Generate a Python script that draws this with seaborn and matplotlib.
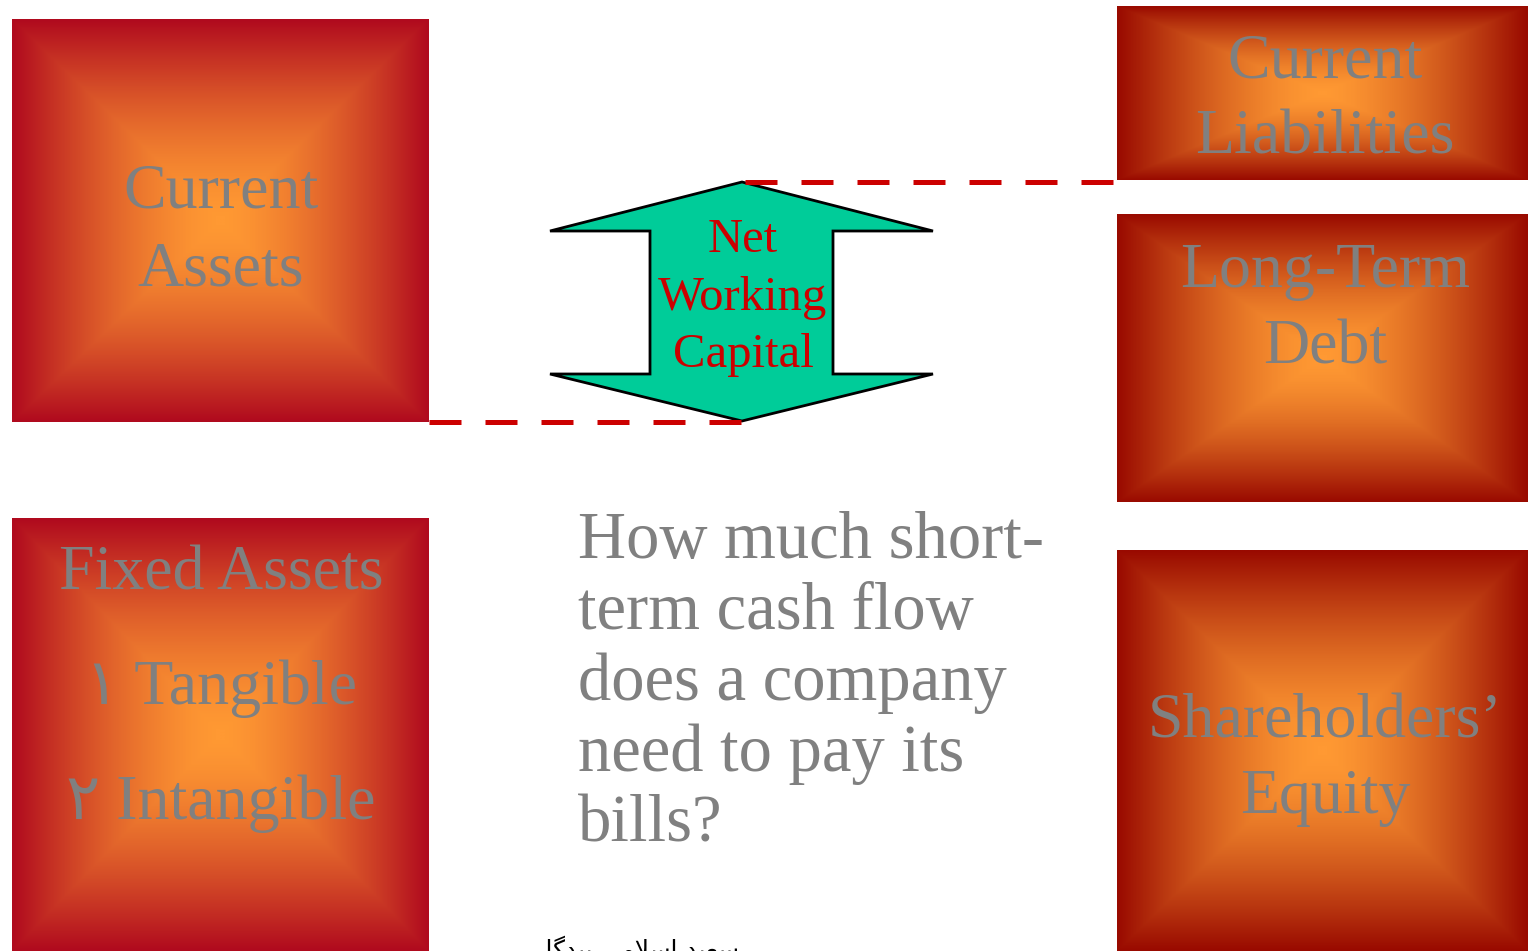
import numpy as np
import matplotlib.pyplot as plt
import seaborn as sns

# slide content
current_assets = ["Current", "Assets"]
fixed_assets = ["Fixed Assets", "١ Tangible", "٢ Intangible"]
current_liab = ["Current", "Liabilities"]
long_term_debt = ["Long-Term", "Debt"]
equity = ["Shareholders’", "Equity"]
nwc_label = ["Net", "Working", "Capital"]
question = ["How much short-", "term cash flow", "does a company", "need to pay its", "bills?"]
# "سعید اسلامی بیدگلی" written in shaped presentation forms, visual order
footer = "\ufbfd\ufee0\ufb94\ufeaa\ufbff\ufe91 \ufbfd\ufee3\ufefc\ufeb3\ufe8d \ufeaa\ufbff\ufecc\ufeb3"

sns.set_theme(style="white")
plt.rcParams["font.family"] = ["Liberation Serif", "DejaVu Sans"]

fig = plt.figure(figsize=(15.28, 9.51), dpi=100)
ax = fig.add_axes([0, 0, 1, 1])
ax.set_xlim(0, 1528)
ax.set_ylim(951, 0)
ax.axis("off")

gray = "#808080"
red = "#CC0000"


def grad_box(x0, y0, x1, y1, edge):
    cmap = sns.blend_palette(["#FF9933", edge], as_cmap=True)
    xx, yy = np.meshgrid(np.linspace(-1, 1, 300), np.linspace(-1, 1, 300))
    t = np.maximum(np.abs(xx), np.abs(yy))
    ax.imshow(t ** 1.5, cmap=cmap, vmin=0, vmax=1, extent=(x0, x1, y1, y0),
              aspect="auto", interpolation="bilinear", zorder=1)


def box_text(xc, baselines, lines, size=46, color=gray):
    for y, s in zip(baselines, lines):
        ax.text(xc, y, s, ha="center", va="baseline", fontsize=size, color=color, zorder=3)


# left column
grad_box(12, 19, 429, 422, "#B00A1E")
box_text(221, [208, 285], current_assets)
grad_box(12, 518, 429, 951, "#B00A1E")
box_text(221, [589, 704, 819], fixed_assets)

# right column
grad_box(1117, 6, 1528, 180, "#990A00")
box_text(1325, [77, 154], current_liab)
grad_box(1117, 214, 1528, 502, "#990A00")
box_text(1325, [287, 364], long_term_debt)
grad_box(1117, 550, 1528, 951, "#990A00")
box_text(1325, [737, 813], equity)

# double arrow
arrow = [(742, 182), (933, 231), (833, 231), (833, 374), (933, 374), (742, 421),
         (550, 374), (650, 374), (650, 231), (550, 231)]
ax.add_patch(plt.Polygon(arrow, closed=True, facecolor="#00CC99", edgecolor="black",
                         linewidth=2, joinstyle="miter", zorder=2))
box_text(743, [252, 310, 367], nwc_label, size=35, color=red)

# dashed connector lines
ax.plot([429, 742], [422, 422], color=red, lw=3.6, dashes=(6.4, 4.8),
        solid_capstyle="butt", dash_capstyle="butt", zorder=4)
ax.plot([745, 1113], [182, 182], color=red, lw=3.6, dashes=(6.4, 4.8),
        solid_capstyle="butt", dash_capstyle="butt", zorder=4)

# question text
for y, s in zip([558, 629, 700, 771, 842], question):
    ax.text(578, y, s, ha="left", va="baseline", fontsize=48, color=gray, zorder=3)

# footer (cut by the slide edge, as in the original)
ax.text(632, 958, footer, ha="center", va="baseline", fontsize=18, color="black",
        family=["DejaVu Sans"], zorder=3)

fig.savefig("out.png", dpi=100)
